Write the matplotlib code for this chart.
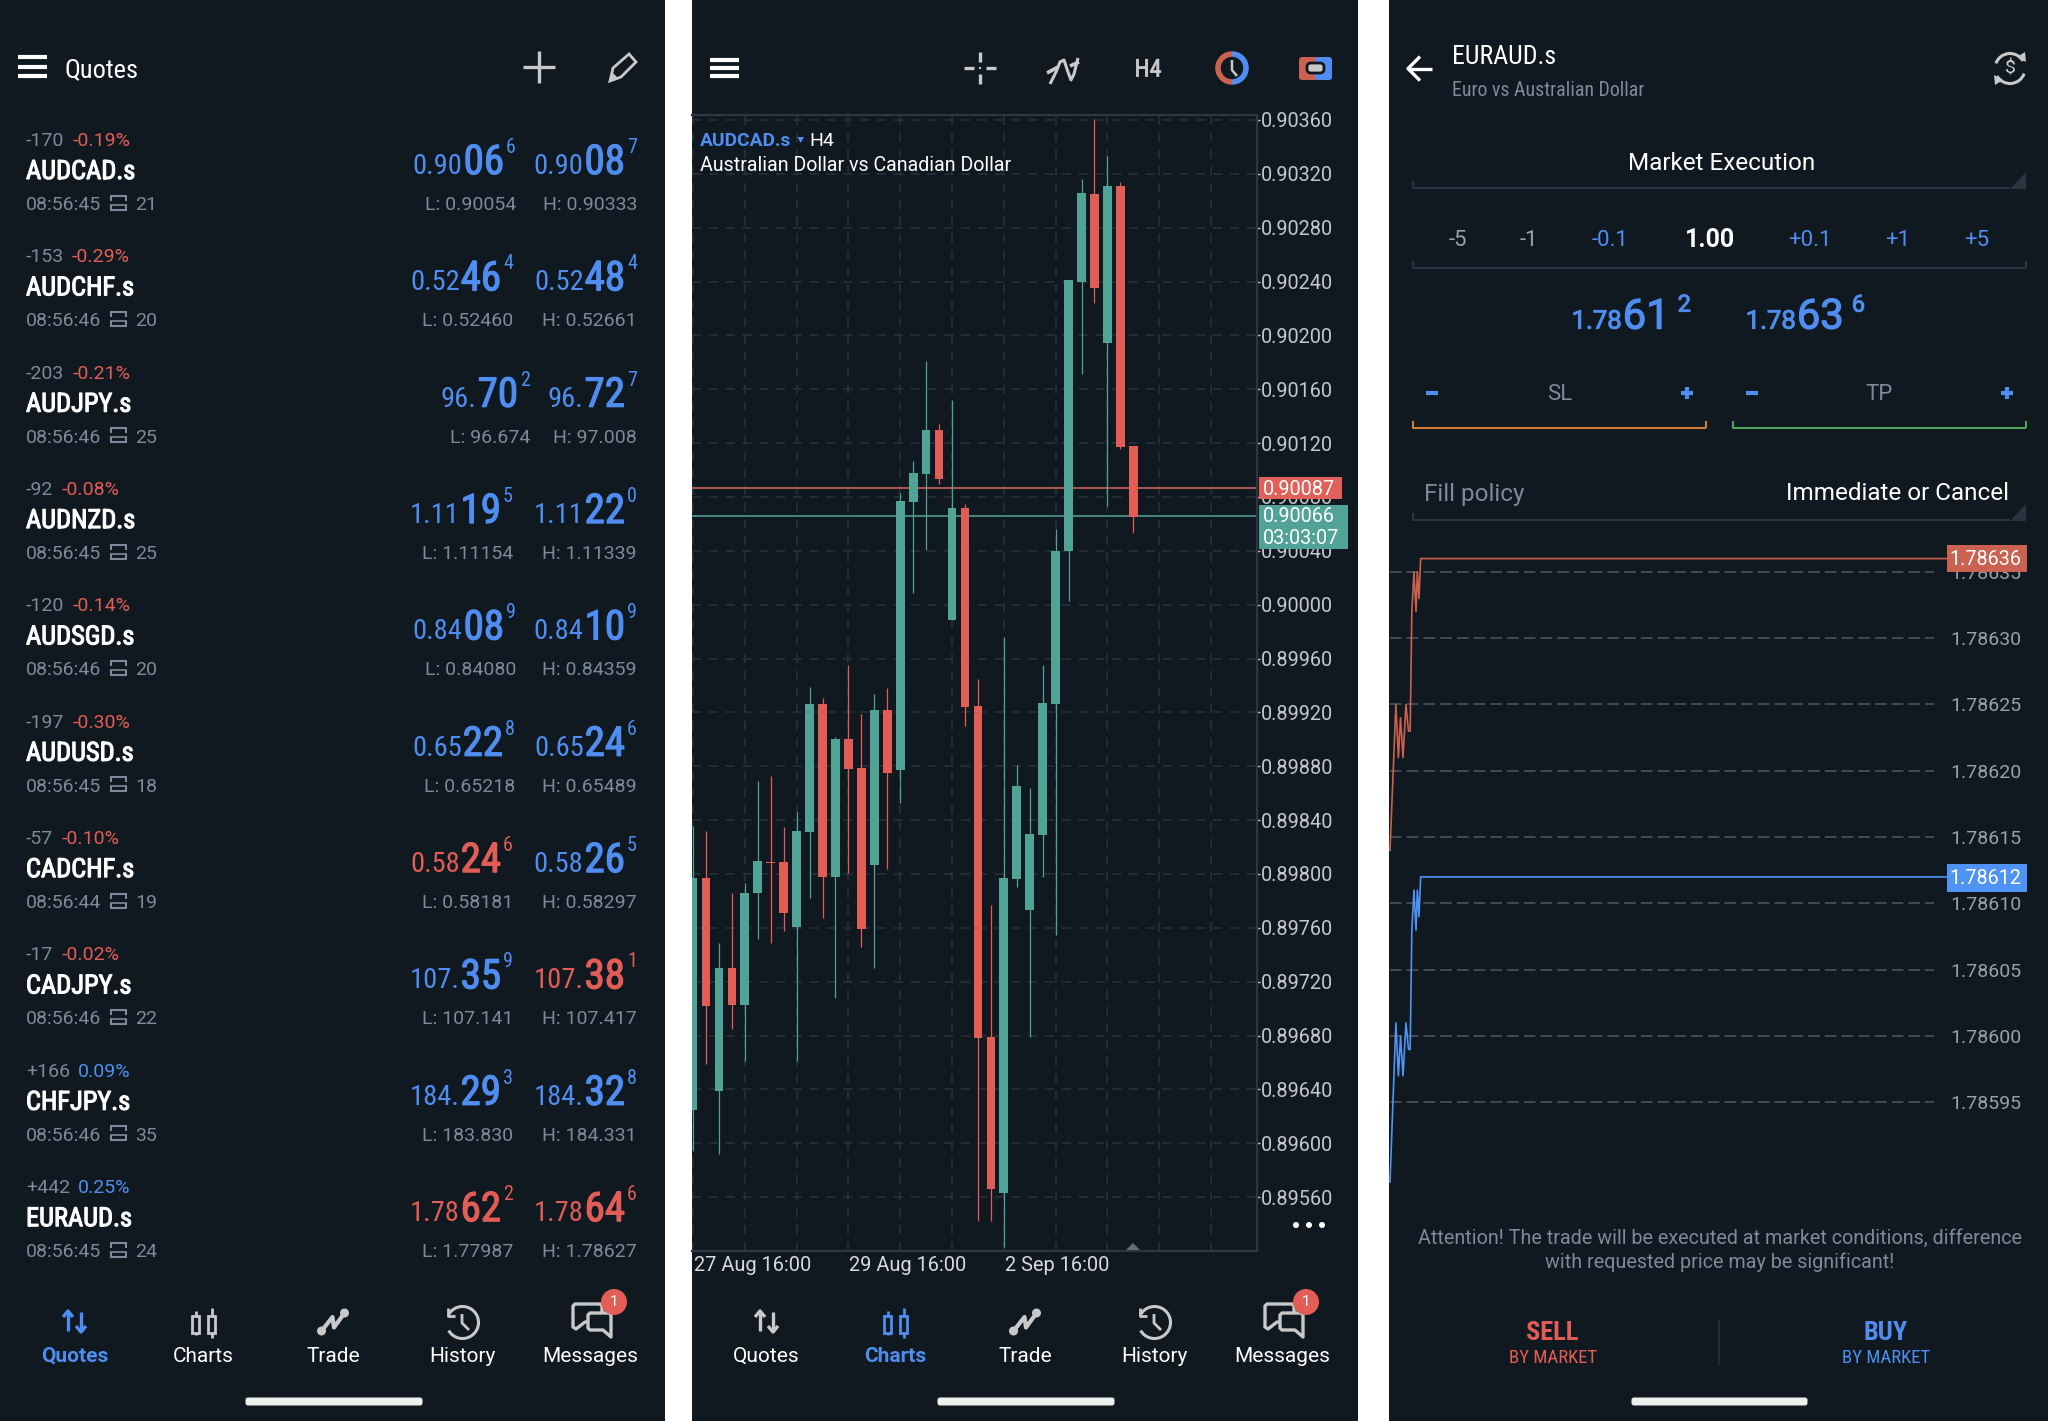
import numpy as np
from matplotlib import pyplot as plt
from matplotlib import font_manager, patheffects
from matplotlib.patches import Rectangle, Circle, FancyBboxPatch, Polygon, Arc

# quotes list
names = ['AUDCAD.s', 'AUDCHF.s', 'AUDJPY.s', 'AUDNZD.s', 'AUDSGD.s', 'AUDUSD.s', 'CADCHF.s', 'CADJPY.s', 'CHFJPY.s', 'EURAUD.s']
points = ['-170', '-153', '-203', '-92', '-120', '-197', '-57', '-17', '+166', '+442']
percents = ['-0.19%', '-0.29%', '-0.21%', '-0.08%', '-0.14%', '-0.30%', '-0.10%', '-0.02%', '0.09%', '0.25%']
times = ['08:56:45', '08:56:46', '08:56:46', '08:56:45', '08:56:46', '08:56:45', '08:56:44', '08:56:46', '08:56:46', '08:56:45']
spreads = ['21', '20', '25', '25', '20', '18', '19', '22', '35', '24']
bids = [('0.90', '06', '6'), ('0.52', '46', '4'), ('96.', '70', '2'), ('1.11', '19', '5'), ('0.84', '08', '9'),
        ('0.65', '22', '8'), ('0.58', '24', '6'), ('107.', '35', '9'), ('184.', '29', '3'), ('1.78', '62', '2')]
asks = [('0.90', '08', '7'), ('0.52', '48', '4'), ('96.', '72', '7'), ('1.11', '22', '0'), ('0.84', '10', '9'),
        ('0.65', '24', '6'), ('0.58', '26', '5'), ('107.', '38', '1'), ('184.', '32', '8'), ('1.78', '64', '6')]
bid_up = [1, 1, 1, 1, 1, 1, 0, 1, 1, 0]
ask_up = [1, 1, 1, 1, 1, 1, 1, 0, 1, 0]
lows = ['0.90054', '0.52460', '96.674', '1.11154', '0.84080', '0.65218', '0.58181', '107.141', '183.830', '1.77987']
highs = ['0.90333', '0.52661', '97.008', '1.11339', '0.84359', '0.65489', '0.58297', '107.417', '184.331', '1.78627']
nav_labels = ['Quotes', 'Charts', 'Trade', 'History', 'Messages']

# AUDCAD H4 candles
opens = [.89625, .89797, .89639, .89730, .89703, .89786, .89809, .89809, .89761, .89831, .89926, .89798,
         .89900, .89879, .89807, .89922, .89877, .90076, .90097, .90130, .89989, .90072, .89925, .89679,
         .89563, .89796, .89773, .89829, .89926, .90040, .90240, .90305, .90194, .90311, .90118]
closes = [.89797, .89702, .89730, .89703, .89786, .89810, .89808, .89771, .89832, .89926, .89798, .89900,
          .89878, .89759, .89922, .89875, .90077, .90098, .90130, .90093, .90072, .89924, .89678, .89566,
          .89797, .89865, .89830, .89927, .90040, .90241, .90306, .90235, .90311, .90117, .90065]
candle_high = [.89836, .89832, .89749, .89786, .89793, .89869, .89873, .89835, .89846, .89939, .89931, .89902,
               .89955, .89919, .89934, .89938, .90083, .90107, .90181, .90134, .90152, .90075, .89945, .89777,
               .89976, .89881, .89864, .89955, .90056, .90241, .90316, .90361, .90333, .90314, .90118]
candle_low = [.89594, .89659, .89592, .89685, .89661, .89752, .89749, .89758, .89661, .89782, .89767, .89708,
              .89801, .89746, .89730, .89804, .89853, .90009, .90041, .90090, .89989, .89910, .89542, .89542,
              .89523, .89790, .89679, .89798, .89755, .90003, .90171, .90224, .90073, .90116, .90053]
chart_ticks = [.89560, .89600, .89640, .89680, .89720, .89760, .89800, .89840, .89880, .89920, .89960, .90000,
               .90040, .90080, .90120, .90160, .90200, .90240, .90280, .90320, .90360]
date_pos = [0, 12, 24]
date_labels = ['27 Aug 16:00', '29 Aug 16:00', '2 Sep 16:00']
chart_ask = 0.90087
chart_bid = 0.90066

# EURAUD tick chart
tick_x = [0, 14, 20, 25, 31, 38, 44, 48, 52, 57, 62, 65, 69, 73, 1330]
tick_ask = [1.78614, 1.78625, 1.78621, 1.78624, 1.78621, 1.78625, 1.78623, 1.78623, 1.78632, 1.78635, 1.78632, 1.78635, 1.78633, 1.78636, 1.78636]
tick_bid = [1.78589, 1.78601, 1.78597, 1.78600, 1.78597, 1.78601, 1.78599, 1.78599, 1.78608, 1.78611, 1.78608, 1.78611, 1.78609, 1.78612, 1.78612]
tick_levels = [1.78595, 1.78600, 1.78605, 1.78610, 1.78615, 1.78620, 1.78625, 1.78630, 1.78635]

BG = '#101820'
BLUE = '#4f8ef0'
RED = '#e25d55'
TEAL = '#52a397'
GREY = '#7d8a9b'
ICON = '#c9c9c9'
EDGE = '#2a3340'

installed = {f.name for f in font_manager.fontManager.ttflist}
NARROW = 'Roboto'
for fam in ['Roboto Condensed', 'Liberation Sans Narrow', 'Noto Sans Condensed', 'Open Sans Condensed']:
    if fam in installed:
        NARROW = fam
        break
plt.rcParams['font.family'] = ['Roboto', 'DejaVu Sans']

W, H = 2048, 1421
fig = plt.figure(figsize=(W / 100, H / 100), dpi=100, facecolor='white')


def px_axes(left, top, right, bottom, zorder):
    return fig.add_axes([left / W, 1 - bottom / H, (right - left) / W, (bottom - top) / H], zorder=zorder)


back = px_axes(0, 0, W, H, 0)
back.set_xlim(0, W)
back.set_ylim(H, 0)
back.axis('off')
for x0, x1 in [(0, 665), (692, 1358), (1388.5, 2048)]:
    back.add_patch(Rectangle((x0, 0), x1 - x0, H, color=BG, lw=0))

# candle chart
ax = px_axes(692, 114.6, 1257, 1251, 1)
ax.set_facecolor('none')
ax.set_xlim(-0.08, 43.55)
ax.set_ylim(0.89520, 0.90364)
ax.set_yticks(chart_ticks)
ax.set_yticklabels(['%.5f' % t for t in chart_ticks])
ax.yaxis.tick_right()
ax.tick_params(axis='y', colors='#c4c8cc', labelsize=14.3, length=2, pad=1, width=1)
ax.set_xticks(np.arange(0, 44, 4))
ax.tick_params(axis='x', length=0, labelbottom=False)
ax.grid(True, color='#2a3139', lw=1.1, dashes=(6, 5))
ax.set_axisbelow(True)
for s in ['left']:
    ax.spines[s].set_visible(False)
for s in ['top', 'right', 'bottom']:
    ax.spines[s].set_color('#2e3642')
    ax.spines[s].set_linewidth(1.6)
ax.axhline(chart_ask, color='#c9605a', lw=1.2, zorder=2)
ax.axhline(chart_bid, color='#4f9a8c', lw=1.2, zorder=2)
for i in range(len(opens)):
    col = TEAL if closes[i] >= opens[i] else RED
    ax.vlines(i, candle_low[i], candle_high[i], color=col, lw=0.9, zorder=3)
    ax.bar(i, abs(closes[i] - opens[i]), bottom=min(opens[i], closes[i]), width=0.67, color=col, zorder=4)

# tick chart
ax2 = px_axes(1389, 540, 2027, 1190, 1)
ax2.set_facecolor('none')
ax2.set_xlim(-2.4, 1517)
ax2.set_ylim(1.785884, 1.786374)
ax2.set_xticks([])
ax2.set_yticks(tick_levels)
ax2.set_yticklabels(['%.5f' % t for t in tick_levels])
ax2.yaxis.tick_right()
ax2.tick_params(axis='y', colors='#9aa0a8', labelsize=14, length=0, pad=-4)
for lab in ax2.get_yticklabels():
    lab.set_ha('right')
for s in ax2.spines.values():
    s.set_visible(False)
ax2.hlines(tick_levels, 0, 1295, color='#444a51', lw=1.4, linestyles=(0, (6, 2.6)))
ax2.plot(tick_x, tick_ask, color='#cb6150', lw=1.2)
ax2.plot(tick_x, tick_bid, color='#4f93f5', lw=1.2)

# everything else, in pixels
ui = px_axes(0, 0, W, H, 2)
ui.set_xlim(0, W)
ui.set_ylim(H, 0)
ui.axis('off')
ui.patch.set_alpha(0)
renderer = fig.canvas.get_renderer()


def txt(x, y, s, size=14, color='white', ha='left', va='center', family=None, weight='normal', stroke=0):
    fam = family if family else 'Roboto'
    t = ui.text(x, y, s, fontsize=size, color=color, ha=ha, va=va, family=fam, weight=weight)
    if stroke:
        t.set_path_effects([patheffects.withStroke(linewidth=stroke, foreground=color)])
    return t


def line(xs, ys, color=ICON, lw=2, cap='butt'):
    ui.plot(xs, ys, color=color, lw=lw, solid_capstyle=cap, solid_joinstyle='round')


def price(right, base, parts, color, s_small=20.5, s_big=29.5, s_sup=14.5, sup_up=21, fam=None, gap=2, heavy=0):
    fam = fam if fam else NARROW
    small, big, sup = parts
    t = txt(right, base - sup_up, sup, s_sup, color, 'right', 'baseline', fam, stroke=heavy)
    x = t.get_window_extent(renderer).x0 - gap
    t = txt(x, base, big, s_big, color, 'right', 'baseline', fam, stroke=0.9)
    x = t.get_window_extent(renderer).x0 - 1
    txt(x, base, small, s_small, color, 'right', 'baseline', fam, stroke=heavy)


def burger(x0, x1, ys):
    for y in ys:
        line([x0, x1], [y, y], 'white', 3)


def bracket(x0, x1, y, color, triangle=False):
    line([x0, x0, x1 - (16 if triangle else 0)], [y - 7, y, y], color, 1.5)
    if triangle:
        ui.add_patch(Polygon([(x1 - 16, y + 1), (x1, y + 1), (x1, y - 16)], color=color, lw=0))
    else:
        line([x1, x1], [y, y - 7], color, 1.5)


def nav(dx, active):
    ys = 1356.5
    xs = [74.5, 203, 333, 462, 590.5]
    for k in range(5):
        on = k == active
        txt(xs[k] + dx, ys, nav_labels[k], 15, BLUE if on else 'white', 'center', weight='bold' if on else 'normal')
    # quotes arrows
    c = BLUE if active == 0 else ICON
    line([68 + dx, 68 + dx], [1311, 1331], c, 2.4)
    line([63 + dx, 68 + dx, 73 + dx], [1317, 1311, 1317], c, 2.4)
    line([81 + dx, 81 + dx], [1312, 1332], c, 2.4)
    line([76 + dx, 81 + dx, 86 + dx], [1326, 1332, 1326], c, 2.4)
    # candles
    c = BLUE if active == 1 else ICON
    for cx, y0, y1 in [(195.5, 1311, 1335), (211.5, 1308, 1338)]:
        line([cx + dx, cx + dx], [y0, y1], c, 2)
        ui.add_patch(Rectangle((cx + dx - 3.5, 1314 + 2), 7, 17, fc=BG, ec=c, lw=2, zorder=3))
    # trade
    px = np.array([321.5, 332.5, 334, 344.5]) + dx
    py = [1331, 1317, 1327.5, 1313]
    line(px, py, ICON, 3)
    ui.add_patch(Circle((px[0], py[0]), 4.5, color=ICON, lw=0))
    ui.add_patch(Circle((px[3], py[3]), 4.5, color=ICON, lw=0))
    # history
    ui.add_patch(Arc((462.5 + dx, 1322.5), 32, 32, theta1=-150, theta2=150, color=ICON, lw=2.2))
    line([448 + dx, 448 + dx, 455 + dx], [1308, 1316, 1316], ICON, 2)
    line([462 + dx, 462 + dx, 469 + dx], [1314, 1323, 1330], ICON, 2)
    # messages
    left = [(575, 1304), (600, 1304), (602, 1306), (602, 1322), (585, 1322), (576, 1329), (573, 1327), (573, 1306)]
    right = [(590, 1313), (609, 1313), (611, 1315), (611, 1337), (603, 1330), (590, 1330), (588, 1328), (588, 1315)]
    for shape in [left, right]:
        ui.add_patch(Polygon([(a + dx, b) for a, b in shape], fc=BG, ec=ICON, lw=2.4, joinstyle='round'))
    ui.add_patch(Circle((614 + dx, 1302), 13, color=RED, lw=0, zorder=4))
    ui.text(614 + dx, 1302, '1', fontsize=11, color='white', ha='center', va='center', zorder=5)


# first screen: quotes
burger(18, 47, [57, 67, 76])
txt(65, 70.5, 'Quotes', 19, 'white', family=NARROW)
line([539, 539], [51, 83], ICON, 2.4)
line([523, 555], [67, 67], ICON, 2.4)
ui.add_patch(Polygon([(610, 81), (613, 68), (629, 54), (636, 62), (621, 77)], fc='none', ec=ICON, lw=2))
ui.add_patch(Polygon([(610, 81), (612, 72), (618, 78)], color=ICON, lw=0))

bid_right = [516, 513, 530, 513, 516, 515, 513, 513, 513, 513]
for r in range(len(names)):
    y = 141 + r * 116.35
    t = txt(26, y, points[r], 14, GREY)
    x = t.get_window_extent(renderer).x1 + 8
    txt(x, y, percents[r], 14, RED if points[r][0] == '-' else BLUE)
    txt(26, y + 31, names[r], 19, 'white', family=NARROW, stroke=0.8)
    txt(26, y + 64, times[r], 14, GREY)
    yt, yb = y + 54.5, y + 68.5
    line([110, 127], [yt, yt], GREY, 1.5)
    line([110, 127], [yb, yb], GREY, 1.5)
    line([110, 127], [yb - 5, yb - 5], GREY, 1.2)
    for xs in [111, 126]:
        line([xs, xs], [yt, yt + 5], GREY, 1.5)
        line([xs, xs], [yb - 5, yb], GREY, 1.5)
    txt(135, y + 64, spreads[r], 14, GREY)
    price(bid_right[r], y + 33, bids[r], BLUE if bid_up[r] else RED)
    price(637, y + 33, asks[r], BLUE if ask_up[r] else RED)
    txt(bid_right[r], y + 64, 'L: ' + lows[r], 14, GREY, 'right')
    txt(637, y + 64, 'H: ' + highs[r], 14, GREY, 'right')
nav(0, 0)
ui.add_patch(FancyBboxPatch((248, 1400), 172, 3, boxstyle='round,pad=2.5', color='#eef0ee', lw=0))

# second screen: chart
burger(710, 739, [60, 68, 76])
line([980, 980], [52, 62], ICON, 2.4)
line([980, 980], [74, 84], ICON, 2.4)
line([964, 974], [68, 68], ICON, 2.4)
line([986, 996], [68, 68], ICON, 2.4)
ui.add_patch(Circle((980, 68), 1.2, color=ICON, lw=0))
line([1050, 1056, 1060, 1064, 1068, 1071, 1074, 1078], [84, 72, 62, 60, 72, 80, 74, 58], ICON, 2.2)
line([1047, 1058], [73, 67], ICON, 2.6)
line([1070, 1079], [66, 62], ICON, 2.6)
txt(1148, 70, 'H4', 17.5, ICON, 'center', family=NARROW, stroke=0.5)
ui.add_patch(Arc((1232, 68), 28, 28, theta1=90, theta2=270, color='#cb6150', lw=4))
ui.add_patch(Arc((1232, 68), 28, 28, theta1=-90, theta2=90, color=BLUE, lw=4))
line([1232, 1232, 1237], [60, 70, 76], ICON, 1.8)
ui.add_patch(FancyBboxPatch((1301, 59), 15, 19, boxstyle='round,pad=2,rounding_size=3', color='#cb6150', lw=0))
ui.add_patch(FancyBboxPatch((1317, 59), 13, 19, boxstyle='round,pad=2,rounding_size=3', color=BLUE, lw=0))
ui.add_patch(FancyBboxPatch((1308, 64), 15, 8, boxstyle='round,pad=1,rounding_size=4', fc=ICON, ec='#101820', lw=2))

txt(699.5, 141.5, 'AUDCAD.s', 13.8, BLUE, weight='bold')
ui.add_patch(Polygon([(797.5, 137), (804, 137), (800.7, 143)], color=BLUE, lw=0))
txt(809, 141.5, 'H4', 14, 'white')
txt(699.5, 165.5, 'Australian Dollar vs Canadian Dollar', 14.1, 'white')

ui.add_patch(Rectangle((1259, 476.8), 83, 21.8, color='#e0605a', lw=0))
txt(1263, 489.3, '%.5f' % chart_ask, 14.3, 'white')
ui.add_patch(Rectangle((1259, 505), 89, 44, color=TEAL, lw=0))
txt(1263, 517, '%.5f' % chart_bid, 14.3, 'white')
txt(1263, 539, '03:03:07', 14.3, 'white')
for k in range(3):
    ui.add_patch(Circle((1296 + k * 13, 1225), 3, color='white', lw=0))
ui.add_patch(Polygon([(1126, 1250), (1140, 1250), (1133, 1243)], color='#6a6a6a', lw=0))
for p, lab in zip(date_pos, date_labels):
    txt(694 + p * 12.95, 1265.8, lab, 14.4, '#d8dadc')
nav(692, 1)
ui.add_patch(FancyBboxPatch((940, 1400), 172, 3, boxstyle='round,pad=2.5', color='#eef0ee', lw=0))

# third screen: order
line([1408, 1432], [68.6, 68.6], 'white', 2.4)
line([1420, 1408, 1420], [56.6, 68.6, 80.6], 'white', 2.4)
txt(1452, 57.5, 'EURAUD.s', 18.6, 'white', family=NARROW)
txt(1452, 90, 'Euro vs Australian Dollar', 14.3, GREY, family=NARROW)
ui.add_patch(Arc((2010, 68.5), 30, 30, theta1=-160, theta2=-30, color=ICON, lw=2.2))
ui.add_patch(Arc((2010, 68.5), 30, 30, theta1=20, theta2=150, color=ICON, lw=2.2))
ui.add_patch(Polygon([(2017, 57), (2025, 52), (2026, 62)], color=ICON, lw=0))
ui.add_patch(Polygon([(2003, 80), (1995, 85), (1994, 75)], color=ICON, lw=0))
txt(2010, 68.5, '$', 14, ICON, 'center')

txt(1722, 163, 'Market Execution', 17.5, 'white', 'center')
bracket(1413, 2026, 187.6, EDGE, True)
for xp, lab, col in [(1458, '-5', '#9aa0a8'), (1529, '-1', '#9aa0a8'), (1610, '-0.1', BLUE), (1809.6, '+0.1', BLUE),
                     (1897.8, '+1', BLUE), (1977, '+5', BLUE)]:
    txt(xp, 240, lab, 16, col, 'center')
txt(1710, 240, '1.00', 18, 'white', 'center', weight='bold')
bracket(1413, 2026, 268.4, EDGE)

price(1691, 328.6, ('1.78', '61', '2'), BLUE, 18.5, 30, 17, 17, 'Roboto', 8, 0.7)
price(1865, 328.6, ('1.78', '63', '6'), BLUE, 18.5, 30, 17, 17, 'Roboto', 8, 0.7)

for xp in [1432, 1752]:
    line([xp - 6, xp + 6], [392.8, 392.8], BLUE, 3)
for xp in [1687, 2007]:
    line([xp - 6, xp + 6], [392.8, 392.8], BLUE, 3)
    line([xp, xp], [386.8, 398.8], BLUE, 3)
txt(1559.5, 395, 'SL', 16, GREY, 'center')
txt(1879, 395, 'TP', 16, GREY, 'center')
bracket(1413, 1705.6, 427.6, '#d27a3a')
bracket(1733, 2026, 427.6, '#4fa35a')
txt(1423.6, 494.5, 'Fill policy', 17.5, GREY)
txt(2009.4, 494, 'Immediate or Cancel', 17.5, 'white', 'right')
bracket(1413, 2026, 519.6, EDGE, True)

ui.add_patch(Rectangle((1947, 545), 80, 27, color='#cb6150', lw=0))
txt(2021.6, 559.5, '%.5f' % tick_ask[-1], 14.2, 'white', 'right')
ui.add_patch(Rectangle((1947, 864), 80, 27.5, color='#4f93f5', lw=0))
txt(2021.6, 879, '%.5f' % tick_bid[-1], 14.2, 'white', 'right')

txt(1719.6, 1238, 'Attention! The trade will be executed at market conditions, difference', 14.2, GREY, 'center')
txt(1719.6, 1262, 'with requested price may be significant!', 14.2, GREY, 'center')
txt(1552.6, 1332.5, 'SELL', 19, RED, 'center', family=NARROW, weight='bold')
txt(1552.6, 1358, 'BY MARKET', 13.5, RED, 'center', family=NARROW)
txt(1886, 1332.5, 'BUY', 19, BLUE, 'center', family=NARROW, weight='bold')
txt(1886, 1358, 'BY MARKET', 13.5, BLUE, 'center', family=NARROW)
line([1719, 1719], [1319.5, 1365], '#222b36', 1.6)
ui.add_patch(FancyBboxPatch((1634, 1400), 171, 3, boxstyle='round,pad=2.5', color='#eef0ee', lw=0))

fig.savefig('out.png', dpi=100, facecolor='white')
